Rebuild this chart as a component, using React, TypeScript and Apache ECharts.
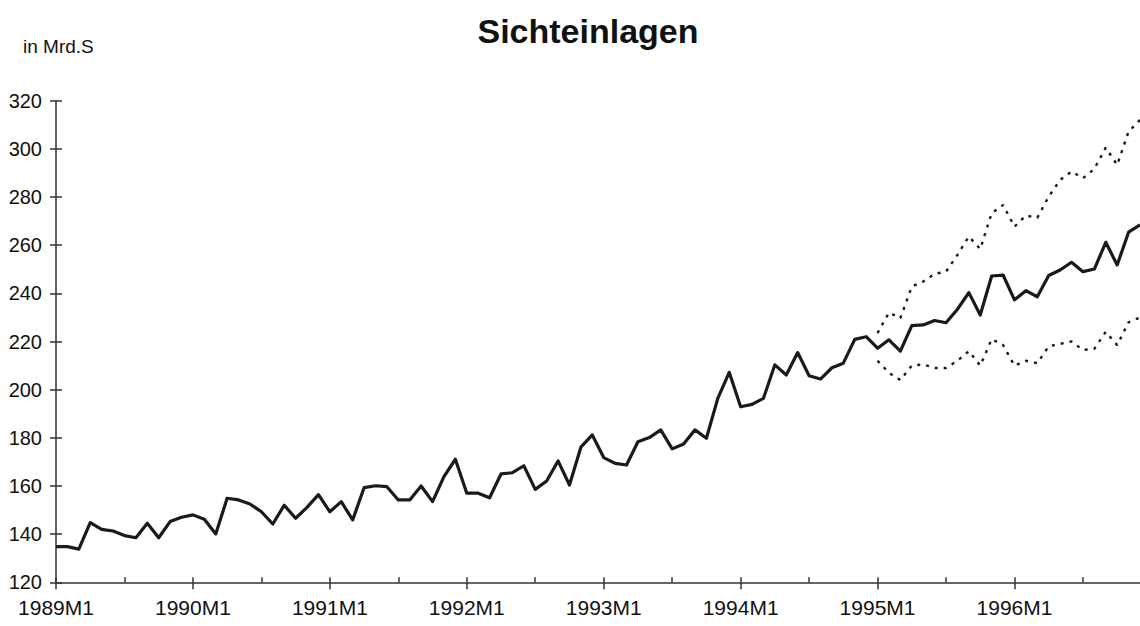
import React, { useEffect, useRef } from "react";
import * as echarts from "echarts";

const years = [1989, 1990, 1991, 1992, 1993, 1994, 1995, 1996];
const categories: string[] = [];
years.forEach((y) => {
  for (let m = 1; m <= 12; m++) categories.push(`${y}M${m}`);
});

const actual = [
  134.8, 134.8, 133.8, 144.8, 142.0, 141.3, 139.4, 138.5, 144.5, 138.5, 145.2, 147.0,
  148.0, 146.2, 140.1, 154.9, 154.2, 152.5, 149.3, 144.2, 152.0, 146.6, 151.1, 156.4,
  149.3, 153.5, 145.9, 159.3, 160.1, 159.7, 154.2, 154.2, 160.0, 153.5, 163.9, 171.1,
  157.0, 157.0, 155.1, 165.0, 165.5, 168.4, 158.6, 162.1, 170.4, 160.4, 176.1, 181.2,
  171.8, 169.4, 168.7, 178.4, 180.1, 183.3, 175.4, 177.4, 183.3, 179.8, 196.4, 207.2,
  192.9, 193.9, 196.4, 210.3, 206.1, 215.4, 205.8, 204.4, 209.1, 211.0, 220.9, 222.0,
  217.2, 220.7, 216.0, 226.6, 226.9, 228.7, 227.8, 233.4, 240.3, 231.0, 247.2, 247.6,
  237.3, 241.1, 238.6, 247.4, 249.7, 252.9, 249.0, 250.1, 261.2, 251.8, 265.4, 268.4,
];

const upperBand = [
  223.5, 232.0, 229.7, 242.8, 244.9, 248.1, 249.0, 256.0, 263.6, 258.4, 273.3, 276.7,
  267.7, 272.3, 271.4, 280.2, 287.1, 290.6, 287.8, 291.7, 300.5, 293.3, 307.2, 312.0,
];

const lowerBand = [
  212.0, 207.0, 204.0, 210.0, 210.5, 209.0, 209.0, 212.0, 216.0, 210.0, 221.0, 218.5,
  210.0, 212.0, 211.0, 218.0, 219.0, 220.0, 216.5, 217.0, 224.0, 218.5, 228.0, 230.0,
];

const bandStart = 72;
const padBand = (arr: number[]) =>
  categories.map((_, i) => (i < bandStart ? null : arr[i - bandStart]));

const yTicks = { min: 120, max: 320, interval: 20 };

const FONT = "'Liberation Sans', Arial, Helvetica, sans-serif";

export default function App() {
  const ref = useRef<HTMLDivElement>(null);
  useEffect(() => {
    if (!ref.current) return;
    const chart = echarts.init(ref.current, undefined, { renderer: "svg" });
    const axisColor = "#333";
    chart.setOption({
      animation: false,
      backgroundColor: "#fff",
      textStyle: { fontFamily: FONT },
      graphic: [
        {
          type: "text",
          x: 588,
          y: 31,
          style: {
            text: "Sichteinlagen",
            font: `bold 34px ${FONT}`,
            fill: "#111",
            align: "center",
            verticalAlign: "middle",
          },
        },
        {
          type: "text",
          left: 23,
          top: 37,
          style: { text: "in Mrd.S", font: `19px ${FONT}`, fill: "#111" },
        },
      ],
      grid: { left: 56, right: -2, top: 100.7, bottom: 43.7, containLabel: false },
      xAxis: [
        {
          type: "category",
          data: categories,
          boundaryGap: false,
          position: "bottom",
          axisLine: { show: true, lineStyle: { color: axisColor, width: 1.5 } },
          axisTick: {
            show: true,
            inside: false,
            length: 7,
            interval: (i: number) => i % 12 === 0,
            lineStyle: { color: axisColor, width: 1.5 },
          },
          axisLabel: {
            interval: (i: number) => i % 12 === 0,
            margin: 15,
            color: "#111",
            fontSize: 21,
            fontFamily: FONT,
          },
          splitLine: { show: false },
        },
        {
          type: "category",
          data: categories,
          boundaryGap: false,
          position: "bottom",
          offset: 0,
          axisLine: { show: false },
          axisTick: {
            show: true,
            inside: true,
            length: 5,
            interval: (i: number) => i % 6 === 0,
            lineStyle: { color: axisColor, width: 1.5 },
          },
          axisLabel: { show: false },
          splitLine: { show: false },
        },
      ],
      yAxis: [
        {
          type: "value",
          min: yTicks.min,
          max: yTicks.max,
          interval: yTicks.interval,
          position: "left",
          axisLine: { show: true, lineStyle: { color: axisColor, width: 1.5 } },
          axisTick: { show: true, inside: false, length: 6, lineStyle: { color: axisColor, width: 1.5 } },
          axisLabel: { margin: 14, color: "#111", fontSize: 20, fontFamily: FONT },
          splitLine: { show: false },
        },
        {
          type: "value",
          min: yTicks.min,
          max: yTicks.max,
          interval: yTicks.interval,
          position: "left",
          offset: 0,
          axisLine: { show: false },
          axisTick: { show: true, inside: true, length: 6, lineStyle: { color: axisColor, width: 1.5 } },
          axisLabel: { show: false },
          splitLine: { show: false },
        },
      ],
      series: [
        {
          name: "Sichteinlagen",
          type: "line",
          data: actual,
          symbol: "none",
          lineStyle: { color: "#1a1a1a", width: 3.2, join: "round" },
          z: 3,
        },
        {
          name: "Obergrenze",
          type: "line",
          data: padBand(upperBand),
          symbol: "none",
          lineStyle: { color: "#1a1a1a", width: 2.4, type: [3, 6] },
          z: 2,
        },
        {
          name: "Untergrenze",
          type: "line",
          data: padBand(lowerBand),
          symbol: "none",
          lineStyle: { color: "#1a1a1a", width: 2.4, type: [3, 6] },
          z: 2,
        },
      ],
    });
    return () => chart.dispose();
  }, []);
  return (
    <div
      ref={ref}
      style={{ position: "fixed", left: 0, top: 0, width: 1140, height: 626, background: "#fff" }}
    />
  );
}
